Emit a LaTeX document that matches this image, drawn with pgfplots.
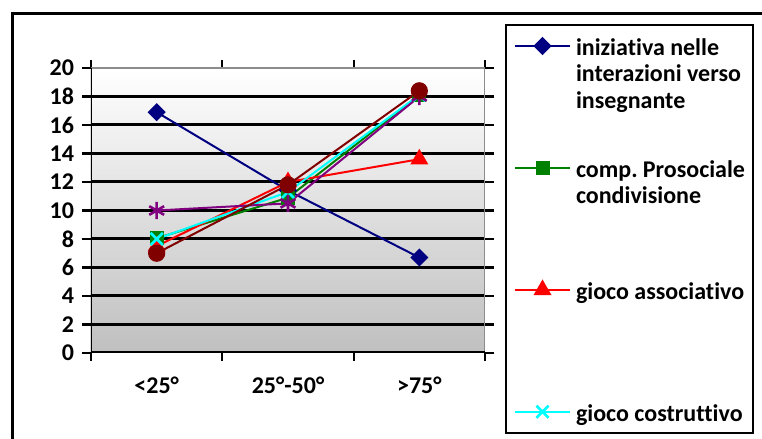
\documentclass[border=0pt]{standalone}
\usepackage{fontspec}
\setmainfont{Carlito}[Ligatures=CommonOff]
\usepackage{pgfplots}
\pgfplotsset{compat=1.18}
\definecolor{sNavy}{HTML}{000080}
\definecolor{sGreen}{HTML}{008000}
\definecolor{sRed}{HTML}{FF0000}
\definecolor{sCyan}{HTML}{00FFFF}
\definecolor{sPurple}{HTML}{800080}
\definecolor{sMaroon}{HTML}{800000}
\frenchspacing
\begin{document}
\begin{tikzpicture}
\path[use as bounding box] (0,0) rectangle (381pt,219.5pt);
\draw[line width=1.5pt] (400pt,212.8pt) -- (6pt,212.8pt) -- (6pt,-20pt);
\begin{axis}[
  at={(45.5pt,43pt)}, anchor=south west,
  width=197pt, height=142.5pt, scale only axis,
  xmin=0, xmax=3, ymin=0, ymax=20,
  xtick={0.5,1.5,2.5}, xticklabels={<25°,25°-50°,>75°},
  minor xtick={0,1,2,3},
  ytick={0,2,...,20},
  tick align=outside,
  major tick length=4.5pt, minor tick length=4pt,
  major x tick style={draw=none},
  minor x tick style={black, line width=1pt},
  major y tick style={black, line width=1.2pt},
  axis line style={draw=none},
  extra y ticks={2,4,...,18}, extra y tick labels={},
  extra y tick style={grid=major, major grid style={black, line width=1.5pt}, major y tick style={draw=none}},
  axis background/.style={shade, top color=white, bottom color=black!25},
  tick label style={font=\bfseries\fontsize{12}{14}\selectfont},
  /pgf/number format/assume math mode=true,
  yticklabel style={xshift=-0.5pt},
  xticklabel style={yshift=-4pt},
  legend style={at={(1.0508,1.1544)}, anchor=north west, draw=black, line width=1pt,
    inner xsep=4pt, inner ysep=5.85pt, row sep=51.7pt, column sep=2.5pt,
    nodes={inner sep=0pt, text depth=0pt},
    font=\bfseries\fontsize{12}{13.25}\selectfont},
  legend cell align=left,
  legend image code/.code={\draw[mark repeat=2,mark phase=2] plot coordinates {(0pt,0pt) (13.75pt,0pt) (27.5pt,0pt)};},
]
\draw[black!45, line width=1pt] (rel axis cs:0,1) -- (rel axis cs:1,1) -- (rel axis cs:1,0);
\draw[black, line width=1.5pt] (rel axis cs:0,1) -- (rel axis cs:0,0) -- (rel axis cs:1,0);
\addplot[sNavy, line width=1pt, mark=square*, mark size=2.7pt, mark options={rotate=45, fill=sNavy}] coordinates {(0.5,16.9) (1.5,11.4) (2.5,6.7)};
\addlegendentry{\parbox[t]{84.5pt}{\strut iniziativa nelle\\interazioni verso\\insegnante}}
\addplot[sGreen, line width=1pt, mark=square*, mark size=3pt, mark options={fill=sGreen}] coordinates {(0.5,8.05) (1.5,10.9) (2.5,18.1)};
\addlegendentry{\parbox[t]{84.5pt}{\strut comp. Prosociale\\condivisione}}
\addplot[sRed, line width=1pt, mark=triangle*, mark size=4.2pt, mark options={fill=sRed}] coordinates {(0.5,7.5) (1.5,12.0) (2.5,13.6)};
\addlegendentry{\parbox[t]{84.5pt}{\strut gioco associativo}}
\addplot[sCyan, line width=1pt, mark=x, mark size=4.3pt, mark options={line width=1.3pt}] coordinates {(0.5,8.0) (1.5,11.3) (2.5,18.1)};
\addlegendentry{\parbox[t]{84.5pt}{\strut gioco costruttivo}}
\addplot[sPurple, line width=1pt, mark=asterisk, mark size=4.3pt, mark options={line width=1.3pt}] coordinates {(0.5,10.0) (1.5,10.5) (2.5,18.0)};
\addplot[sMaroon, line width=1pt, mark=*, mark size=3.8pt, mark options={fill=sMaroon}] coordinates {(0.5,7.0) (1.5,11.8) (2.5,18.4)};
\end{axis}
\end{tikzpicture}
\end{document}
